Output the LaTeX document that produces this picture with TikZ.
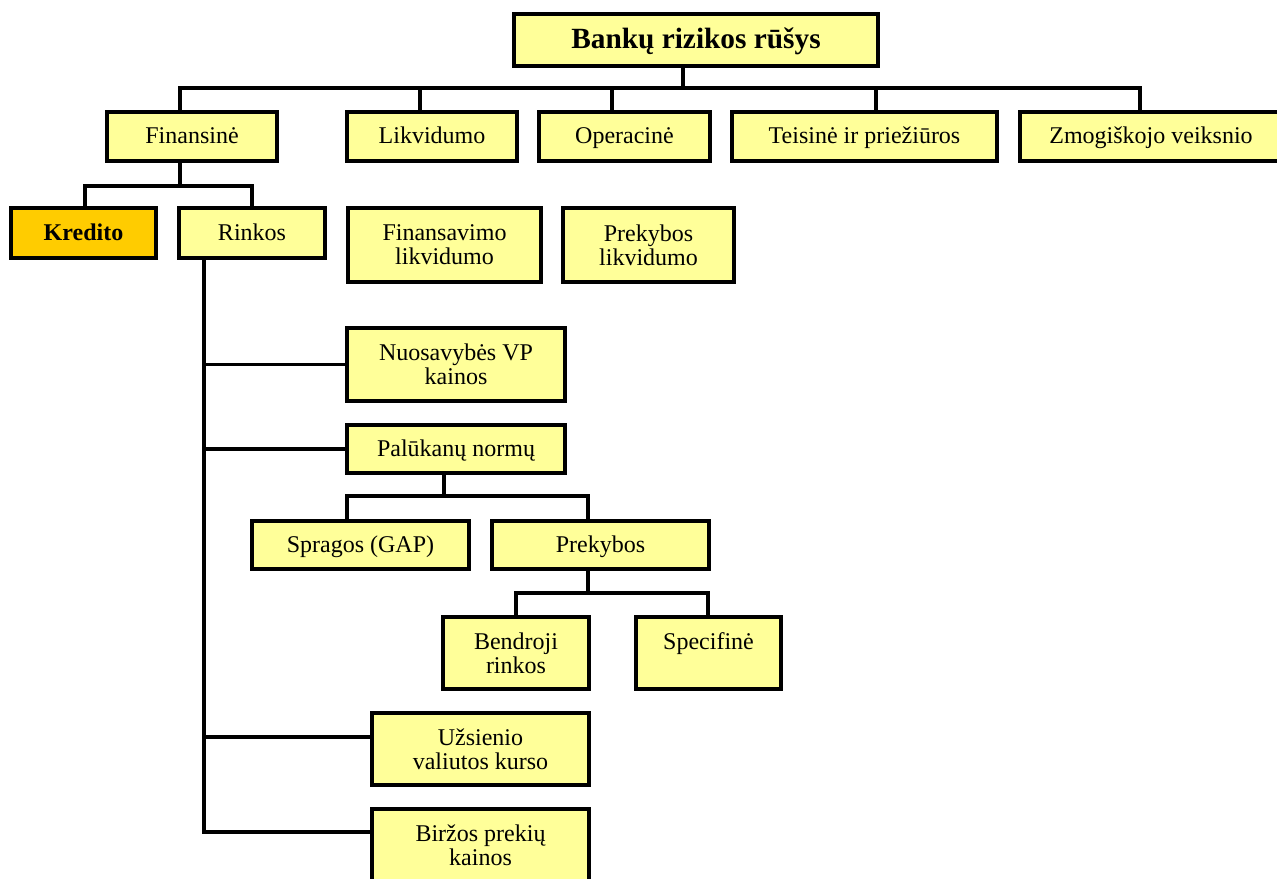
\documentclass[tikz,border=0pt]{standalone}
\usepackage{fontspec}
\setmainfont{Liberation Serif}
\begin{document}
\begin{tikzpicture}[x=0.75pt,y=-0.75pt,
  box/.style={draw=black, line width=3pt, fill=boxyellow, align=center, inner sep=0pt,
    font=\fontsize{18}{18}\selectfont},
  one/.style={text height=14pt, text depth=3pt},
  conn/.style={draw=black, line width=2.4pt},
]
\definecolor{boxyellow}{HTML}{FFFF99}
\definecolor{credorange}{HTML}{FFCC00}
\useasboundingbox (0,0) rectangle (1277,878);
\begin{scope}
\clip (0,0) rectangle (1277,878);
% title
\node[box, line width=3.6pt, minimum width=273pt, minimum height=39pt,
  text height=16.5pt, text depth=4.5pt,
  font=\fontsize{22}{26}\selectfont\bfseries] (title) at (696,40) {Bankų rizikos rūšys};
% level 1
\node[box, one, minimum width=127.5pt, minimum height=36.75pt] (fin) at (192,136.5) {Finansinė};
\node[box, one, minimum width=127.5pt, minimum height=36.75pt] (lik) at (432,136.5) {Likvidumo};
\node[box, one, minimum width=128.25pt, minimum height=36.75pt] (ope) at (624.5,136.5) {Operacinė};
\node[box, one, minimum width=198.75pt, minimum height=36.75pt] (tei) at (864.5,136.5) {Teisinė ir priežiūros};
\node[box, one, minimum width=196.5pt, minimum height=36.75pt] (zmo) at (1151,136.5) {Zmogiškojo veiksnio};
% level 2
\node[box, one, fill=credorange, minimum width=108.75pt, minimum height=37.5pt, font=\fontsize{18}{18}\selectfont\bfseries] (kre) at (83.5,233) {Kredito};
\node[box, one, minimum width=109.5pt, minimum height=37.5pt] (rin) at (252,233) {Rinkos};
\node[box, minimum width=144.75pt, minimum height=55.5pt] (fli) at (444.5,245) {Finansavimo\\likvidumo};
\node[box, minimum width=128.25pt, minimum height=55.5pt] (pli) at (648.5,245) {Prekybos\\likvidumo};
% rinkos children
\node[box, minimum width=163.5pt, minimum height=54.75pt] (nuo) at (456,364.5) {Nuosavybės VP\\kainos};
\node[box, one, minimum width=163.5pt, minimum height=36pt] (pal) at (456,449) {Palūkanų normų};
\node[box, one, minimum width=162.75pt, minimum height=36pt] (spr) at (360.5,545) {Spragos (GAP)};
\node[box, one, minimum width=162.75pt, minimum height=36pt] (pre) at (600.5,545) {Prekybos};
\node[box, minimum width=109.5pt, minimum height=54pt] (ben) at (516,653) {Bendroji\\rinkos};
\node[box, minimum width=108.75pt, minimum height=54pt] (spe) at (708.5,653) {Specifinė\\\mbox{}};
\node[box, minimum width=162.75pt, minimum height=54pt] (uzs) at (480.5,749) {Užsienio\\valiutos kurso};
\node[box, minimum width=162.75pt, minimum height=54pt] (bir) at (480.5,845) {Biržos prekių\\kainos};
\end{scope}
% connectors
\draw[conn] (title.south -| 683,0) -- (683,88) -| (fin.north -| 180,0);
\draw[conn] (title.south -| 683,0) -- (683,88) -| (lik.north -| 420,0);
\draw[conn] (title.south -| 683,0) -- (683,88) -| (ope.north -| 612,0);
\draw[conn] (title.south -| 683,0) -- (683,88) -| (tei.north -| 876,0);
\draw[conn] (title.south -| 683,0) -- (683,88) -| (zmo.north -| 1140,0);
\draw[conn] (fin.south -| 180,0) -- (180,186) -| (kre.north -| 85,0);
\draw[conn] (fin.south -| 180,0) -- (180,186) -| (rin.north -| 252,0);
\draw[conn] (rin.south -| 204,0) |- (nuo.west);
\draw[conn] (rin.south -| 204,0) |- (pal.west);
\draw[conn] (rin.south -| 204,0) |- (uzs.west |- 0,737);
\draw[conn] (rin.south -| 204,0) |- (bir.west |- 0,832);
\draw[conn] (pal.south -| 444,0) -- (444,496) -| (spr.north -| 347,0);
\draw[conn] (pal.south -| 444,0) -- (444,496) -| (pre.north -| 588,0);
\draw[conn] (pre.south -| 588,0) -- (588,593) -| (ben.north -| 516,0);
\draw[conn] (pre.south -| 588,0) -- (588,593) -| (spe.north -| 708,0);
\end{tikzpicture}
\end{document}
